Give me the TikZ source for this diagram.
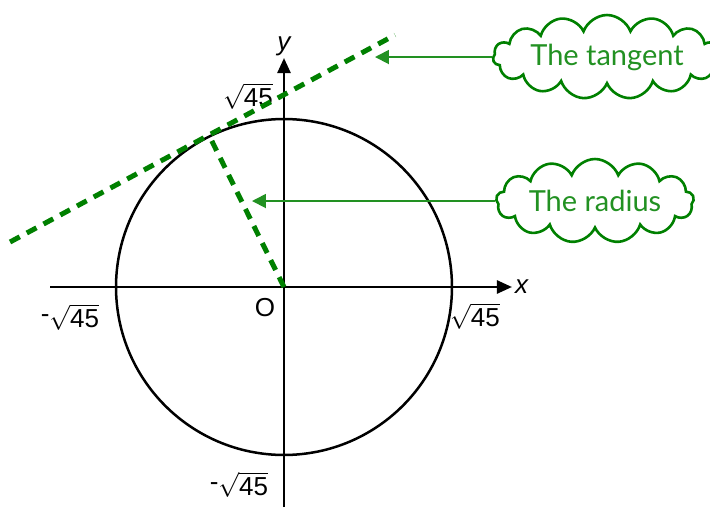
\documentclass[tikz,border=0pt]{standalone}
\usepackage{amsmath}
\usepackage{fontspec}
\setmainfont{Liberation Sans}
\newfontfamily\cloudfont{Lato}
\usetikzlibrary{arrows.meta,shapes.symbols}

\definecolor{leafgreen}{RGB}{0,128,0}
\definecolor{textgreen}{RGB}{34,145,34}

\begin{document}
\begin{tikzpicture}[x=25.04pt, y=25.04pt,
  axis/.style={line width=2.5pt, -{Triangle[length=15pt,width=13pt]}},
  tandash/.style={leafgreen, line width=5pt, dash pattern=on 11pt off 8pt},
  lab/.style={font=\fontsize{26}{28}\selectfont},
  bubble/.style={cloud, draw=leafgreen, line width=2.6pt, cloud puffs=15, cloud puff arc=140, cloud ignores aspect,
    text=textgreen, font=\cloudfont\fontsize{29}{32}\selectfont},
  pointer/.style={textgreen, line width=1.8pt, -{Triangle[length=14pt,width=14pt]}}]
\useasboundingbox (-11.342,-8.906) rectangle (17.013,11.462);
% circle and axes
\draw[line width=2.5pt] (0,0) circle ({sqrt(45)});
\draw[axis] (-9.345,0) -- (9.105,0) node[lab, anchor=west, inner sep=2pt] (xlab) {\itshape x};
\draw[axis] (0,-8.786) -- (0,9.145) node[lab, anchor=south, inner sep=1pt] (ylab) {\itshape y};
\node[lab] (O) at (-0.76,-0.84) {O};
\node[lab] (top) at (-1.44,7.63) {$\sqrt{\text{45}}$};
\node[lab] (left) at (-8.55,-1.2) {\raisebox{5pt}{-}$\sqrt{\text{45}}$};
\node[lab] (right) at (7.63,-1.16) {$\sqrt{\text{45}}$};
\node[lab] (bottom) at (-1.8,-7.9) {\raisebox{5pt}{-}$\sqrt{\text{45}}$};
% tangent and radius
\coordinate (P) at (-3,6.07);
\coordinate (tanA) at (-10.94,1.797);
\coordinate (tanB) at (4.433,10.064);
\draw[tandash] (tanA) -- (tanB);
\draw[tandash] (0,0) -- (P);
% labels
\node[bubble, minimum width=212pt, minimum height=84pt] (tancloud) at (12.9,9.185) {The tangent};
\node[bubble, minimum width=190pt, minimum height=84pt, cloud puffs=13] (radcloud) at (12.42,3.434) {The radius};
\coordinate (tantip) at (3.634,9.185);
\coordinate (radtip) at (-1.278,3.434);
\draw[pointer] (tancloud.west) -- (tantip);
\draw[pointer] (radcloud.west) -- (radtip);
\end{tikzpicture}
\end{document}
